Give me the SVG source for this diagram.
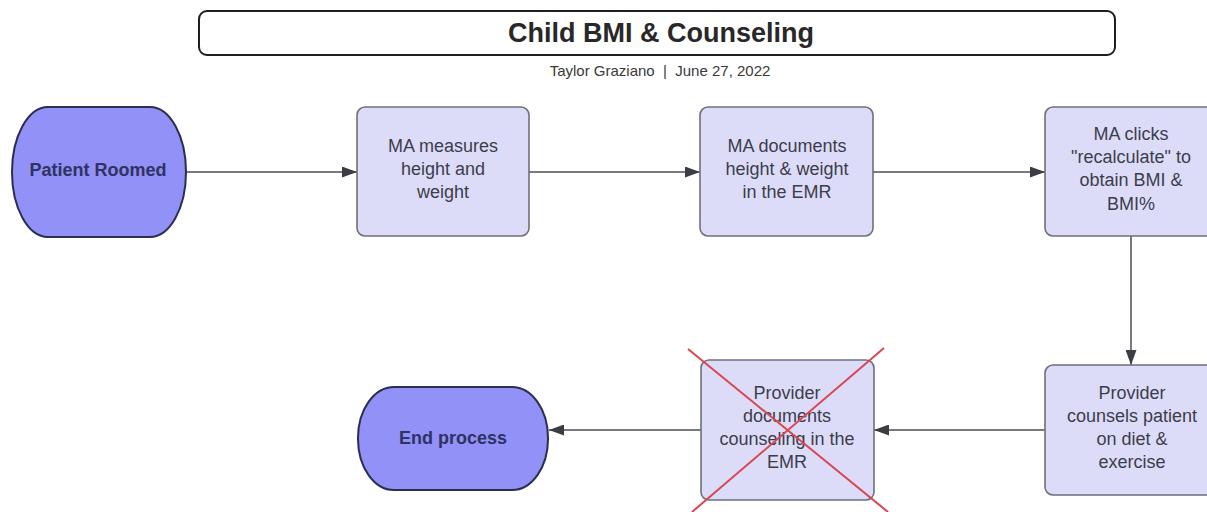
<svg xmlns="http://www.w3.org/2000/svg" width="1207" height="512" viewBox="0 0 1207 512">
<style>
.t{font-family:"Liberation Sans",Arial,sans-serif;text-anchor:middle}
.term{fill:#9191f7;stroke:#2c2e50;stroke-width:2}
.termt{font-size:18px;font-weight:bold;fill:#2f3262}
.proc{fill:#dcdcf9;stroke:#6f7079;stroke-width:1.6}
.proct{font-size:18px;fill:#3c3d4c}
.conn{stroke:#4d4e56;stroke-width:1.5;fill:none;marker-end:url(#ah)}
</style>
<defs>
<marker id="ah" viewBox="0 0 15 11" refX="15" refY="5.5" markerWidth="15" markerHeight="11" markerUnits="userSpaceOnUse" orient="auto">
<path d="M0,0 L15,5.5 L0,11 Z" fill="#3b3c44"/>
</marker>
</defs>
<rect width="1207" height="512" fill="#ffffff"/>
<g id="title">
<rect x="199" y="11" width="916" height="44" rx="8" fill="#ffffff" stroke="#1e1e1e" stroke-width="2"/>
<text class="t" x="661" y="42" font-size="27" font-weight="bold" fill="#282828">Child BMI &amp; Counseling</text>
<text class="t" x="660" y="76" font-size="15" fill="#3a3a3a" xml:space="preserve">Taylor Graziano  |  June 27, 2022</text>
</g>
<g id="connectors">
<line class="conn" x1="186" y1="172" x2="357" y2="172"/>
<line class="conn" x1="529" y1="172" x2="700" y2="172"/>
<line class="conn" x1="873" y1="172" x2="1045" y2="172"/>
<line class="conn" x1="1131" y1="236" x2="1131" y2="365"/>
<line class="conn" x1="1045" y1="430" x2="874" y2="430"/>
<line class="conn" x1="701" y1="430" x2="549" y2="430"/>
</g>
<g id="patient-roomed">
<rect class="term" x="12" y="107" width="174" height="130" rx="36" ry="65"/>
<text class="t termt" x="98" y="176" font-size="19">Patient Roomed</text>
</g>
<g id="ma-measures">
<rect class="proc" x="357" y="107" width="172" height="129" rx="8"/>
<text class="t proct" x="443" y="152">MA measures</text>
<text class="t proct" x="443" y="175">height and</text>
<text class="t proct" x="443" y="198">weight</text>
</g>
<g id="ma-documents">
<rect class="proc" x="700" y="107" width="173" height="129" rx="8"/>
<text class="t proct" x="787" y="152">MA documents</text>
<text class="t proct" x="787" y="175">height &amp; weight</text>
<text class="t proct" x="787" y="198">in the EMR</text>
</g>
<g id="ma-clicks">
<rect class="proc" x="1045" y="107" width="172" height="129" rx="8"/>
<text class="t proct" x="1131" y="140">MA clicks</text>
<text class="t proct" x="1131" y="163">"recalculate" to</text>
<text class="t proct" x="1131" y="186">obtain BMI &amp;</text>
<text class="t proct" x="1131" y="210">BMI%</text>
</g>
<g id="provider-counsels">
<rect class="proc" x="1045" y="365" width="172" height="130" rx="8"/>
<text class="t proct" x="1132" y="399">Provider</text>
<text class="t proct" x="1132" y="422">counsels patient</text>
<text class="t proct" x="1132" y="445">on diet &amp;</text>
<text class="t proct" x="1132" y="468">exercise</text>
</g>
<g id="provider-documents">
<rect class="proc" x="701" y="360" width="173" height="140" rx="8"/>
<text class="t proct" x="787" y="399">Provider</text>
<text class="t proct" x="787" y="422">documents</text>
<text class="t proct" x="787" y="445">counseling in the</text>
<text class="t proct" x="787" y="468">EMR</text>
<line x1="688" y1="349" x2="888" y2="512" stroke="#d8474f" stroke-width="2"/>
<line x1="884" y1="348" x2="692" y2="512" stroke="#d8474f" stroke-width="2"/>
</g>
<g id="end-process">
<rect class="term" x="358" y="387" width="190" height="103" rx="36" ry="51"/>
<text class="t termt" x="453" y="444">End process</text>
</g>
</svg>
